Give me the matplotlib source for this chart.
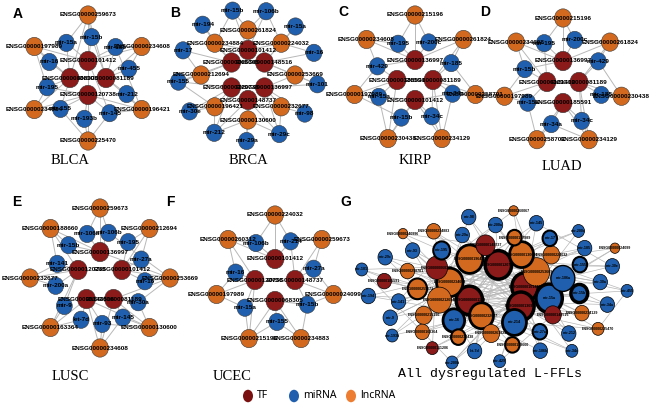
import numpy as np
import matplotlib
matplotlib.use('Agg')
import matplotlib.pyplot as plt
from matplotlib.patches import Ellipse

TF_COLOR = '#8b1a1a'
MIR_COLOR = '#1f5fad'
LNC_COLOR = '#d2691e'
EDGE_COLOR = '#b8b8b8'

# ---- panel A (BLCA): rings listed clockwise from the top, FFL = (tf, mir, lnc)
A_TF = ['ENSG00000101412', 'ENSG00000081189', 'ENSG00000120738', 'ENSG00000068305']
A_MIR = ['mir-15b', 'mir-185', 'mir-455', 'mir-212', 'mir-145', 'mir-193b',
         'mir-155', 'mir-195', 'mir-16', 'mir-15a']
A_LNC = ['ENSG00000259673', 'ENSG00000234608', 'ENSG00000196421', 'ENSG00000225470',
         'ENSG00000234884', 'ENSG00000197989']
A_FFL = [(0, 0, 0), (3, 9, 0), (0, 1, 1), (1, 2, 1), (1, 3, 2), (2, 4, 2), (2, 5, 3),
         (0, 4, 3), (3, 6, 4), (2, 7, 4), (3, 8, 5), (0, 9, 5), (1, 0, 0), (2, 6, 3),
         (3, 7, 5), (1, 1, 2)]

# ---- panel B (BRCA)
B_TF = ['ENSG00000101412', 'ENSG00000148516', 'ENSG00000136997', 'ENSG00000148737',
        'ENSG00000120738', 'ENSG00000068305']
B_LNC = ['ENSG00000261824', 'ENSG00000224032', 'ENSG00000253669', 'ENSG00000232677',
         'ENSG00000130600', 'ENSG00000196421', 'ENSG00000212694', 'ENSG00000234884']
B_MIR = ['mir-106b', 'mir-15a', 'mir-16', 'mir-101', 'mir-98', 'mir-29c', 'mir-29a',
         'mir-212', 'mir-30e', 'mir-155', 'mir-17', 'mir-194', 'mir-15b']
B_FFL = [(0, 12, 0), (0, 0, 0), (1, 1, 1), (1, 2, 1), (1, 3, 2), (2, 4, 3), (2, 5, 3),
         (3, 6, 4), (3, 7, 4), (4, 8, 5), (4, 9, 5), (5, 10, 6), (5, 9, 6), (5, 11, 7),
         (0, 12, 7), (2, 3, 2), (3, 5, 4), (4, 7, 5), (0, 0, 1)]

# ---- panel C (KIRP)
C_TF = ['ENSG00000136997', 'ENSG00000081189', 'ENSG00000101412', 'ENSG00000185591']
C_MIR = ['mir-200c', 'mir-185', 'mir-34a', 'mir-34c', 'mir-15b', 'mir-15a', 'mir-429', 'mir-195']
C_LNC = ['ENSG00000215196', 'ENSG00000261824', 'ENSG00000258701', 'ENSG00000234129',
         'ENSG00000230438', 'ENSG00000197989', 'ENSG00000234608']
C_FFL = [(0, 7, 0), (0, 0, 0), (0, 0, 1), (1, 1, 1), (1, 1, 2), (1, 2, 2), (2, 2, 3),
         (2, 3, 3), (2, 4, 4), (3, 5, 4), (3, 5, 5), (3, 6, 5), (0, 6, 6), (0, 7, 6),
         (1, 3, 3), (2, 4, 5)]

# ---- panel D (LUAD)
D_TF = ['ENSG00000136997', 'ENSG00000081189', 'ENSG00000185591', 'ENSG00000101412']
D_MIR = ['mir-200c', 'mir-429', 'mir-185', 'mir-34c', 'mir-34a', 'mir-15a', 'mir-15b', 'mir-195']
D_LNC = ['ENSG00000215196', 'ENSG00000261824', 'ENSG00000230438', 'ENSG00000234129',
         'ENSG00000258701', 'ENSG00000197989', 'ENSG00000234608']
D_FFL = [(0, 7, 0), (0, 0, 0), (0, 0, 1), (1, 1, 1), (1, 2, 2), (1, 1, 2), (2, 3, 3),
         (2, 4, 3), (2, 4, 4), (3, 5, 5), (3, 6, 5), (3, 7, 6), (0, 6, 6), (1, 3, 3),
         (2, 5, 4)]

# ---- panel E (LUSC)
E_TF = ['ENSG00000136997', 'ENSG00000101412', 'ENSG00000081189', 'ENSG00000148516',
        'ENSG00000120738']
E_MIR = ['mir-106b', 'mir-195', 'mir-27a', 'mir-16', 'mir-30a', 'mir-145', 'mir-93',
         'let-7d', 'mir-9', 'mir-200a', 'mir-141', 'mir-15b', 'mir-106a']
E_LNC = ['ENSG00000259673', 'ENSG00000212694', 'ENSG00000253669', 'ENSG00000130600',
         'ENSG00000234608', 'ENSG00000163364', 'ENSG00000232677', 'ENSG00000188660']
E_FFL = [(0, 12, 0), (0, 0, 0), (1, 1, 1), (1, 2, 1), (1, 3, 2), (2, 4, 2), (2, 5, 3),
         (2, 4, 3), (3, 6, 4), (2, 5, 4), (3, 7, 5), (4, 8, 5), (4, 9, 6), (4, 10, 6),
         (0, 11, 7), (4, 10, 7), (0, 0, 2), (3, 6, 3)]

# ---- panel F (UCEC)
F_TF = ['ENSG00000101412', 'ENSG00000148737', 'ENSG00000068305', 'ENSG00000120738']
F_MIR = ['mir-214', 'mir-27a', 'mir-15b', 'mir-155', 'mir-15a', 'mir-16', 'mir-106b']
F_LNC = ['ENSG00000224032', 'ENSG00000259673', 'ENSG00000024099', 'ENSG00000234883',
         'ENSG00000215196', 'ENSG00000197989', 'ENSG00000260312']
F_FFL = [(0, 6, 0), (0, 0, 0), (1, 0, 1), (1, 1, 1), (1, 1, 2), (1, 2, 2), (2, 3, 3),
         (2, 2, 3), (2, 3, 4), (3, 4, 4), (3, 5, 5), (3, 4, 5), (0, 6, 6), (3, 5, 6)]

# ---- panel G (all dysregulated L-FFLs): type, degree-based size, border width
G_NAME = ['ENSG00000101412', 'ENSG00000081189', 'ENSG00000120738', 'ENSG00000136997',
          'ENSG00000234608', 'ENSG00000253669', 'ENSG00000232677', 'ENSG00000196421',
          'mir-15a', 'ENSG00000212694', 'ENSG00000130600', 'mir-214',
          'ENSG00000068305', 'mir-106a', 'mir-16', 'ENSG00000148737', 'ENSG00000148516',
          'ENSG00000259673', 'ENSG00000224032', 'ENSG00000261824', 'mir-195', 'mir-15b',
          'ENSG00000215196', 'ENSG00000197989', 'mir-27a', 'ENSG00000258701', 'mir-155',
          'ENSG00000230438', 'mir-29a', 'ENSG00000234129', 'mir-141', 'mir-17',
          'ENSG00000188660', 'mir-93', 'mir-30a', 'ENSG00000163364', 'mir-200a', 'mir-212',
          'ENSG00000185591', 'mir-185', 'let-7d', 'ENSG00000234883', 'mir-34a', 'mir-9',
          'mir-145', 'mir-106b', 'mir-29c', 'mir-30e', 'ENSG00000111206', 'mir-98',
          'ENSG00000225470', 'mir-194', 'mir-200c', 'mir-429', 'ENSG00000240996',
          'mir-455', 'mir-193b', 'ENSG00000260067', 'mir-34c', 'mir-101',
          'ENSG00000024099', 'mir-200b']
G_TYPE = ['tf', 'tf', 'tf', 'tf', 'lnc', 'lnc', 'lnc', 'lnc', 'mir', 'lnc', 'lnc', 'mir',
          'tf', 'mir', 'mir', 'tf', 'tf', 'lnc', 'lnc', 'lnc', 'mir', 'mir', 'lnc', 'lnc',
          'mir', 'lnc', 'mir', 'lnc', 'mir', 'lnc', 'mir', 'mir', 'lnc', 'mir', 'mir', 'lnc',
          'mir', 'mir', 'tf', 'mir', 'mir', 'lnc', 'mir', 'mir', 'mir', 'mir', 'mir', 'mir',
          'tf', 'mir', 'lnc', 'mir', 'mir', 'mir', 'lnc', 'mir', 'mir', 'lnc', 'mir', 'mir',
          'lnc', 'mir']
G_SIZE = [11, 11, 11, 11, 11, 11, 10, 11, 11, 10, 10, 10,
          9, 10, 9, 8, 7, 8, 7, 7, 7, 7, 7, 6,
          6, 6, 6, 6, 6, 6, 6, 6, 6, 6, 6, 6,
          6, 6, 6, 6, 6, 6, 6, 6, 6, 6, 6, 6,
          5, 6, 5, 6, 5, 5, 4, 5, 5, 4, 5, 5,
          4, 5]
G_BORDER = [2.5, 2.5, 2.5, 2.5, 2.0, 0.5, 2.0, 2.0, 2.5, 0.5, 2.0, 2.0,
            0.5, 1.0, 2.0, 0.5, 0.5, 1.5, 0.5, 0.5, 1.5, 2.5, 0.5, 1.5,
            1.5, 0.5, 1.5, 1.5, 0.5, 0.5, 0.5, 1.5, 1.5, 0.5, 0.5, 0.5,
            0.5, 0.5, 0.5, 0.5, 0.5, 0.5, 0.5, 0.5, 0.5, 0.5, 0.5, 0.5,
            0.5, 0.5, 0.5, 0.5, 0.5, 0.5, 0.5, 0.5, 0.5, 0.5, 0.5, 0.5,
            0.5, 0.5]
G_EDGES = [(0, 1), (0, 2), (0, 3), (1, 2), (1, 3), (2, 3), (0, 4), (1, 5), (2, 6), (3, 7),
           (0, 8), (1, 9), (2, 10), (3, 11), (4, 8), (5, 11), (6, 8), (7, 9), (10, 11),
           (0, 12), (1, 13), (2, 14), (3, 15), (4, 16), (5, 17), (6, 12), (7, 13), (8, 14),
           (9, 15), (10, 16), (11, 17), (12, 13), (14, 15), (16, 17), (4, 5), (6, 7), (9, 10),
           (18, 0), (18, 11), (19, 1), (19, 8), (20, 2), (20, 4), (21, 3), (21, 5),
           (22, 0), (22, 8), (23, 1), (23, 14), (24, 2), (24, 7), (25, 3), (25, 13),
           (26, 0), (26, 6), (27, 12), (27, 11), (28, 2), (28, 9), (29, 3), (29, 8),
           (30, 0), (30, 10), (31, 1), (31, 4), (32, 12), (32, 14), (33, 3), (33, 6),
           (34, 0), (34, 7), (35, 15), (35, 13), (36, 2), (36, 5), (37, 3), (37, 10),
           (38, 8), (38, 17), (39, 1), (39, 9), (40, 2), (40, 6), (41, 3), (41, 14),
           (42, 0), (42, 5), (43, 1), (43, 10), (44, 2), (44, 4), (45, 3), (45, 9),
           (46, 0), (46, 17), (47, 1), (47, 7), (48, 12), (48, 13), (49, 3), (49, 4),
           (50, 0), (50, 11), (51, 1), (51, 6), (52, 2), (52, 17), (53, 3), (53, 16),
           (54, 0), (54, 15), (55, 1), (55, 10), (56, 2), (56, 7), (57, 12), (57, 8),
           (58, 0), (58, 9), (59, 1), (59, 6), (60, 2), (60, 13), (61, 3), (61, 5),
           (18, 3), (19, 5), (20, 0), (21, 1), (22, 2), (23, 4), (24, 6), (25, 0),
           (26, 1), (27, 2), (28, 3), (29, 7), (30, 4), (31, 5), (32, 0), (33, 1),
           (34, 2), (35, 3), (36, 8), (37, 0), (38, 1), (39, 2), (40, 3), (41, 0),
           (42, 1), (43, 2), (44, 3), (45, 0), (46, 1), (47, 2), (48, 3), (49, 0),
           (50, 1), (51, 2), (52, 3), (53, 0), (54, 1), (55, 2), (56, 3), (57, 0),
           (58, 1), (59, 2), (60, 3), (61, 0),
           (18, 25), (20, 30), (33, 40), (44, 47), (22, 29), (36, 43), (50, 55), (59, 61)]

COLORS = {'tf': TF_COLOR, 'mir': MIR_COLOR, 'lnc': LNC_COLOR}
LABEL_FONT = dict(family=['Liberation Sans', 'DejaVu Sans'], weight='bold', color='black')


def ring(n, cx, cy, rx, ry, start):
    ang = np.radians(start + 360.0 * np.arange(n) / n)
    return cx + rx * np.sin(ang), cy - ry * np.cos(ang)


def draw_node(ax, x, y, r, kind, lw=0.4, ec='#3a3a3a'):
    ax.add_patch(Ellipse((x, y), 2 * r, 2 * r * 1.08, facecolor=COLORS[kind],
                         edgecolor=ec, linewidth=lw, zorder=3))


def draw_panel(ax, tfs, mirs, lncs, ffls, center, rings):
    cx, cy = center
    pos = {}
    for kind, names in (('tf', tfs), ('mir', mirs), ('lnc', lncs)):
        rx, ry, start = rings[kind]
        xs, ys = ring(len(names), cx, cy, rx, ry, start)
        pos[kind] = list(zip(xs, ys))
    edges = set()
    for t, m, l in ffls:
        edges.add((('tf', t), ('mir', m)))
        edges.add((('tf', t), ('lnc', l)))
        edges.add((('mir', m), ('lnc', l)))
    for (k1, i1), (k2, i2) in edges:
        (x1, y1), (x2, y2) = pos[k1][i1], pos[k2][i2]
        ax.plot([x1, x2], [y1, y2], color=EDGE_COLOR, lw=0.7, zorder=1)
    sizes = {'tf': 9, 'mir': 8, 'lnc': 8.5}
    for kind, names in (('lnc', lncs), ('mir', mirs), ('tf', tfs)):
        for (x, y), name in zip(pos[kind], names):
            draw_node(ax, x, y, sizes[kind], kind)
            ax.text(x, y, name, fontsize=4.6, ha='center', va='center', zorder=4, **LABEL_FONT)


fig = plt.figure(figsize=(6.5, 4.18), dpi=100)
ax = fig.add_axes([0, 0, 1, 1])
ax.set_xlim(0, 650)
ax.set_ylim(418, 0)
ax.axis('off')

draw_panel(ax, A_TF, A_MIR, A_LNC, A_FFL, (88, 78),
           {'tf': (18, 17, 0), 'mir': (42, 41, 5), 'lnc': (62, 63, 0)})
draw_panel(ax, B_TF, B_MIR, B_LNC, B_FFL, (248, 75),
           {'tf': (19, 25, 0), 'lnc': (47, 45, 0), 'mir': (70, 66, 15)})
draw_panel(ax, C_TF, C_MIR, C_LNC, C_FFL, (415, 80),
           {'tf': (18, 20, 0), 'mir': (40, 40, 20), 'lnc': (62, 65, 0)})
draw_panel(ax, D_TF, D_MIR, D_LNC, D_FFL, (563, 82),
           {'tf': (16, 21, 0), 'mir': (40, 44, 17), 'lnc': (60, 64, 0)})
draw_panel(ax, E_TF, E_MIR, E_LNC, E_FFL, (100, 278),
           {'tf': (23, 26, 0), 'mir': (45, 46, 11), 'lnc': (70, 70, 0)})
draw_panel(ax, F_TF, F_MIR, F_LNC, F_FFL, (275, 280),
           {'tf': (20, 21, 0), 'mir': (40, 42, 23), 'lnc': (60, 65, 0)})

# panel G: sunflower layout, bigger (earlier) nodes toward the middle
n = len(G_NAME)
idx = np.arange(n)
frac = np.sqrt((idx + 3.0) / (n + 3.0))
ang = np.radians(idx * 137.508)
gx = 495 + 140 * frac * np.cos(ang)
gy = 287 + 80 * frac * np.sin(ang)
for i, j in G_EDGES:
    ax.plot([gx[i], gx[j]], [gy[i], gy[j]], color=EDGE_COLOR, lw=0.5, zorder=1)
for i in range(n):
    draw_node(ax, gx[i], gy[i], G_SIZE[i] * 1.2, G_TYPE[i], lw=G_BORDER[i], ec='black')
    ax.text(gx[i], gy[i], G_NAME[i], fontsize=2.6, ha='center', va='center', zorder=4,
            **LABEL_FONT)

# panel letters and titles
for letter, x, y in [('A', 18, 14), ('B', 175, 13), ('C', 343, 12), ('D', 485, 12),
                     ('E', 17, 202), ('F', 170, 202), ('G', 346, 202)]:
    ax.text(x, y, letter, fontsize=10, fontweight='bold', ha='center', va='center',
            family=['Liberation Sans', 'DejaVu Sans'])
serif = ['Liberation Serif', 'DejaVu Serif']
for title, x, y in [('BLCA', 70, 160), ('BRCA', 248, 160), ('KIRP', 415, 160),
                    ('LUAD', 562, 167), ('LUSC', 70, 376), ('UCEC', 232, 376)]:
    ax.text(x, y, title, fontsize=10.5, ha='center', va='center', family=serif)
ax.text(490, 374, 'All dysregulated L-FFLs', fontsize=9.5, ha='center', va='center',
        family=['Liberation Mono', 'DejaVu Sans Mono'])

# legend
for label, color, x in [('TF', '#7b1010', 248), ('miRNA', '#1f5fad', 294),
                        ('lncRNA', '#ed7d31', 351)]:
    ax.add_patch(Ellipse((x, 396), 10, 12.5, facecolor=color, edgecolor='none'))
    ax.text(x + 9, 396, label, fontsize=7.5, ha='left', va='center',
            family=['Noto Sans', 'DejaVu Sans'])

fig.savefig('out.png', dpi=100)
